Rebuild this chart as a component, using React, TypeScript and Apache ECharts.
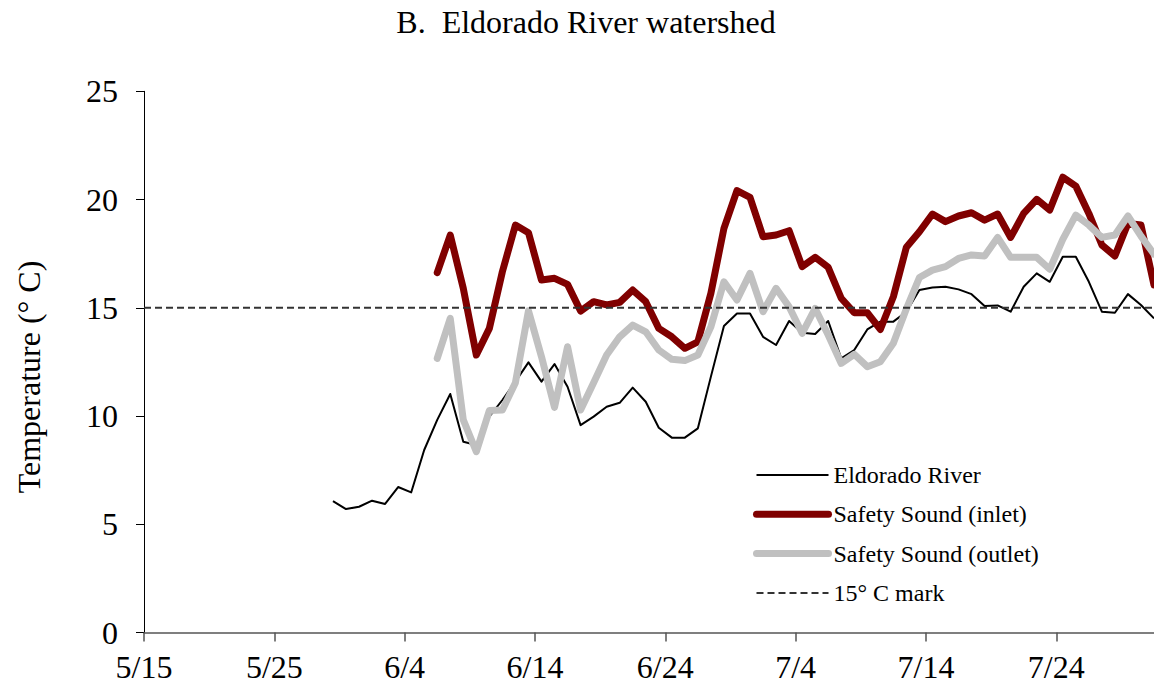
import React, { useEffect, useRef } from "react";
import * as echarts from "echarts";

// Day offsets from 5/15 and their tick labels
const xTickDays = [0, 10, 20, 30, 40, 50, 60, 70];
const xTickLabels = ["5/15", "5/25", "6/4", "6/14", "6/24", "7/4", "7/14", "7/24"];
const xMaxDay = 77.5;

const yTicks = [0, 5, 10, 15, 20, 25];

// Daily mean temperatures (°C); first value is on day riverStart (offset from 5/15)
const riverStart = 14;
const eldoradoRiver = [
  6.07, 5.7, 5.81, 6.09, 5.94, 6.72, 6.47, 8.43, 9.82, 11.02,
  8.81, 8.66, 9.97, 10.74, 11.59, 12.48, 11.59, 12.4, 11.35, 9.58,
  9.97, 10.43, 10.61, 11.31, 10.66, 9.46, 9.0, 9.0, 9.43, 11.82,
  14.16, 14.74, 14.74, 13.66, 13.28, 14.39, 13.85, 13.79, 14.39, 12.66,
  13.05, 14.0, 14.36, 14.36, 14.82, 15.82, 15.94, 15.97, 15.85, 15.63,
  15.08, 15.11, 14.82, 15.97, 16.59, 16.2, 17.36, 17.36, 16.2, 14.82,
  14.77, 15.63, 15.13, 14.51,
];

const inletStart = 22;
const safetyInlet = [
  16.62, 18.36, 15.9, 12.82, 14.05, 16.67, 18.82, 18.47, 16.28, 16.36,
  16.08, 14.85, 15.28, 15.13, 15.25, 15.82, 15.28, 14.05, 13.66, 13.13,
  13.43, 15.67, 18.67, 20.41, 20.1, 18.28, 18.36, 18.56, 16.9, 17.33,
  16.87, 15.44, 14.77, 14.77, 14.0, 15.51, 17.8, 18.51, 19.33, 18.98,
  19.24, 19.39, 19.05, 19.33, 18.25, 19.36, 20.01, 19.52, 21.03, 20.62,
  19.36, 17.9, 17.39, 18.9, 18.82, 16.05,
];

const outletStart = 22;
const safetyOutlet = [
  12.66, 14.51, 9.82, 8.35, 10.25, 10.28, 11.54, 14.86, 12.74, 10.4,
  13.2, 10.28, 11.54, 12.82, 13.66, 14.2, 13.89, 13.05, 12.62, 12.56,
  12.82, 14.12, 16.2, 15.36, 16.59, 14.82, 15.9, 15.05, 13.82, 14.97,
  13.74, 12.43, 12.85, 12.28, 12.51, 13.36, 14.95, 16.4, 16.74, 16.9,
  17.28, 17.44, 17.39, 18.25, 17.33, 17.33, 17.33, 16.78, 18.16, 19.28,
  18.82, 18.25, 18.36, 19.24, 18.31, 17.48,
];

const markValue = 15;

const seriesNames = [
  "Eldorado River",
  "Safety Sound (inlet)",
  "Safety Sound (outlet)",
  "15° C mark",
];

const FONT = '"Liberation Serif", "Times New Roman", serif';

// daily means plotted at mid-day
const toPoints = (start: number, vals: number[]) =>
  vals.map((v, i) => [start + i + 0.5, v]);

export default function App() {
  const ref = useRef<HTMLDivElement>(null);

  useEffect(() => {
    if (!ref.current) return;
    const chart = echarts.init(ref.current, null, { renderer: "svg" });
    const labelFor = (v: number) => {
      const idx = xTickDays.indexOf(v);
      return idx >= 0 ? xTickLabels[idx] : "";
    };
    const lineStyles = [
      { color: "#000", width: 2, join: "round" },
      { color: "#800000", width: 7, cap: "round", join: "round" },
      { color: "#c0c0c0", width: 7, cap: "round", join: "round" },
      { color: "#333", width: 2, type: [7, 4] },
    ];
    chart.setOption({
      animation: false,
      backgroundColor: "#ffffff",
      textStyle: { fontFamily: FONT },
      grid: {
        left: 144,
        right: 0,
        top: 91.3,
        bottom: 54.5,
        containLabel: false,
        outerBoundsMode: "none",
      },
      graphic: [
        {
          type: "text",
          x: 586,
          y: 22,
          style: {
            text: "B.  Eldorado River watershed",
            font: `32px ${FONT}`,
            fill: "#000",
            textAlign: "center",
            textVerticalAlign: "middle",
          },
        },
        {
          type: "text",
          x: 29,
          y: 377,
          rotation: Math.PI / 2,
          style: {
            text: "Temperature (° C)",
            font: `32px ${FONT}`,
            fill: "#000",
            textAlign: "center",
            textVerticalAlign: "middle",
          },
        },
      ],
      legend: {
        orient: "vertical",
        left: 753,
        top: 463,
        padding: 0,
        itemWidth: 72,
        itemHeight: 24,
        itemGap: 15.3,
        itemStyle: { opacity: 0 },
        data: seriesNames.map((name, i) => ({ name, lineStyle: { ...lineStyles[i] } })),
        textStyle: { fontFamily: FONT, fontSize: 24, color: "#000", lineHeight: 24 },
      },
      xAxis: {
        type: "value",
        min: 0,
        max: xMaxDay,
        splitLine: { show: false },
        axisLine: { show: true, onZero: false, lineStyle: { color: "#555", width: 1.5 } },
        axisTick: {
          show: true,
          inside: false,
          length: 9,
          customValues: xTickDays,
          lineStyle: { color: "#555", width: 1.5 },
        },
        axisLabel: {
          customValues: xTickDays,
          formatter: (v: number) => labelFor(v),
          fontFamily: FONT,
          fontSize: 32,
          color: "#000",
          margin: 18,
        },
      },
      yAxis: {
        type: "value",
        min: 0,
        max: 25,
        interval: 5,
        splitLine: { show: false },
        axisLine: { show: true, lineStyle: { color: "#000", width: 1 } },
        axisTick: { show: true, inside: false, length: 8, lineStyle: { color: "#000" } },
        axisLabel: {
          fontFamily: FONT,
          fontSize: 32,
          color: "#000",
          margin: 26,
          formatter: (v: number) => (yTicks.includes(v) ? String(v) : ""),
        },
      },
      series: [
        {
          name: seriesNames[0],
          type: "line",
          symbol: "none",
          data: toPoints(riverStart, eldoradoRiver),
          lineStyle: lineStyles[0],
          itemStyle: { color: "#000" },
        },
        {
          name: seriesNames[1],
          type: "line",
          symbol: "none",
          data: toPoints(inletStart, safetyInlet),
          lineStyle: lineStyles[1],
          itemStyle: { color: "#800000" },
        },
        {
          name: seriesNames[2],
          type: "line",
          symbol: "none",
          data: toPoints(outletStart, safetyOutlet),
          lineStyle: lineStyles[2],
          itemStyle: { color: "#c0c0c0" },
        },
        {
          name: seriesNames[3],
          type: "line",
          symbol: "none",
          data: [
            [0, markValue],
            [xMaxDay, markValue],
          ],
          lineStyle: lineStyles[3],
          itemStyle: { color: "#333" },
        },
      ],
    });
    return () => chart.dispose();
  }, []);

  return (
    <div
      ref={ref}
      style={{ position: "absolute", left: 0, top: 0, width: 1154, height: 687 }}
    />
  );
}
